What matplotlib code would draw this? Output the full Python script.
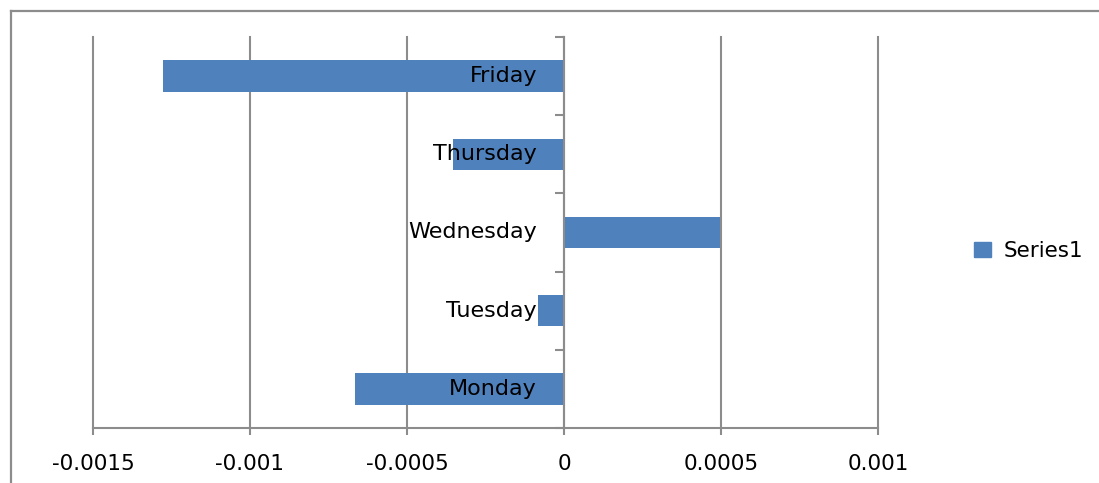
import matplotlib
matplotlib.use("Agg")
import matplotlib.pyplot as plt
from matplotlib.lines import Line2D
from matplotlib.patches import Patch
import numpy as np

days = ["Monday", "Tuesday", "Wednesday", "Thursday", "Friday"]
values = [-0.000666, -0.000083, 0.000497, -0.000354, -0.001277]
x_ticks = [-0.0015, -0.001, -0.0005, 0, 0.0005, 0.001]
x_tick_labels = ["-0.0015", "-0.001", "-0.0005", "0", "0.0005", "0.001"]
series_name = "Series1"

BAR = "#4F81BD"
GRID = "#8C8C8C"
FONT = "DejaVu Sans"

W, H = 1099, 483
fig = plt.figure(figsize=(W / 100, H / 100), dpi=100)
fig.patch.set_facecolor("white")

# chart-area border (top and left edges visible)
fig.add_artist(Line2D([11 / W, 1.0], [1 - 11 / H, 1 - 11 / H], transform=fig.transFigure,
                      color=GRID, lw=1.6))
fig.add_artist(Line2D([11 / W, 11 / W], [0, 1 - 11 / H], transform=fig.transFigure,
                      color=GRID, lw=1.6))

ax = fig.add_axes([93 / W, 1 - 428 / H, (878 - 93) / W, (428 - 37) / H])
ypos = np.arange(len(days))
ax.barh(ypos, values, height=0.4, color=BAR, zorder=3)

ax.set_xlim(x_ticks[0], x_ticks[-1])
ax.set_ylim(-0.5, len(days) - 0.5)

ax.set_xticks(x_ticks)
ax.set_xticklabels(x_tick_labels, fontsize=15.5, family=FONT)
ax.tick_params(axis="x", direction="out", length=5, width=1.5, color=GRID, pad=14)
for xv in x_ticks:
    ax.axvline(xv, color=GRID, lw=1.5, zorder=1, clip_on=False)

# category axis crossing at zero: ticks at boundaries, labels at centres
for s in ("top", "right"):
    ax.spines[s].set_visible(False)
ax.spines["bottom"].set_color(GRID)
ax.spines["bottom"].set_linewidth(1.5)
ax.spines["left"].set_position(("data", 0))
ax.spines["left"].set_color(GRID)
ax.spines["left"].set_linewidth(1.5)
ax.spines["left"].set_zorder(4)
ax.set_yticks(np.arange(-0.5, len(days), 1.0))
ax.set_yticklabels([])
ax.tick_params(axis="y", which="major", direction="out", length=6.5, width=1.5, color=GRID)

# category names sit just left of the zero axis, drawn over the bars
for y, name in zip(ypos, days):
    ax.annotate(name, xy=(0, y), xycoords="data", xytext=(-27, 0),
                textcoords="offset pixels", ha="right", va="center",
                fontsize=16, family=FONT, color="black", zorder=6)

handles = [Patch(facecolor=BAR, edgecolor=BAR, label=series_name)]
fig.legend(handles=handles, loc="center left", bbox_to_anchor=(955 / W, 1 - 251 / H),
           frameon=False, handlelength=0.75, handleheight=0.75,
           handletextpad=0.6, prop={"family": FONT, "size": 15.5})

fig.savefig("out.png", dpi=100)
